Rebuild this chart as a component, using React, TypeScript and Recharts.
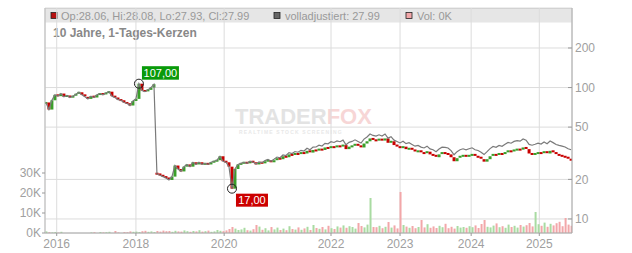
import React from 'react';
import { ComposedChart, Bar, Line, XAxis, YAxis, CartesianGrid, ReferenceDot } from 'recharts';

// one candle per ~3 trading weeks, oldest first (2015 .. mid 2025)
const closes = [
  77, 68, 80, 88, 86, 90, 85, 87, 84, 86,
  89, 92, 88, 85, 82, 86, 84, 88, 90, 88,
  91, 93, 86, 84, 81, 80, 77, 76, 73, 79,
  82, 107, 95, 93, 96, 100, 106, 22, 21.5, 21,
  20.5, 19.8, 21, 25.5, 24, 23, 25, 26, 25, 27,
  26, 27, 26, 26.5, 26, 27, 27.5, 28, 30, 27.5,
  27, 25, 17, 24, 26, 26.5, 27, 26.5, 27.5, 27,
  26, 27, 26.5, 27.5, 28, 27, 28, 29, 28.5, 30,
  29.5, 31, 30.5, 31.5, 31, 32, 31.5, 33, 32, 33.5,
  33, 34, 33.5, 35, 34.5, 35.5, 35, 36, 35.5, 36.5,
  34, 35.5, 36, 37, 36, 35, 37.5, 39, 41, 40,
  39.5, 40.5, 39.5, 41, 38, 39, 36.5, 35.5, 34.5, 35.5,
  34, 34.5, 33.5, 32.5, 33, 32, 31.5, 32.5, 31, 30.5,
  29.5, 31, 32, 31.5, 31, 29.5, 27.5, 29, 30, 30.5,
  30, 30.5, 31, 30, 29.5, 28.5, 27.3, 28.5, 30, 31,
  30.5, 31.5, 31, 32, 33, 32.5, 33.5, 34, 33.7, 35,
  34, 31.5, 31, 31.5, 32, 31.5, 32.5, 31.5, 33, 32,
  31, 30.5, 30, 29.5, 28.5, 27.99,
];

// "volladjustiert" line
const adjusted = [
  77, 68, 80, 88, 86, 90, 85, 87, 84, 86,
  89, 92, 88, 85, 82, 86, 84, 88, 90, 88,
  91, 93, 86, 84, 81, 80, 77, 76, 73, 79,
  82, 107, 95, 93, 96, 100, 106, 22, 21.5, 21,
  20.5, 19.8, 21, 25.5, 24, 23, 25, 26, 25, 27,
  26, 27, 26, 26.5, 26, 27, 27.5, 28, 30, 27.5,
  27, 25, 17, 24, 26, 26.5, 27, 26.5, 27.5, 27.1,
  26.2, 27.2, 26.8, 27.8, 28.4, 27.5, 28.5, 29.6, 29.2, 30.7,
  30.4, 32, 31.5, 32.6, 32.2, 33.3, 32.9, 34.5, 33.6, 35.2,
  35.3, 36.4, 35.9, 37.6, 37.3, 38.7, 38.2, 39.2, 38.7, 39.8,
  36.7, 38.3, 38.9, 40, 38.9, 37.8, 40.5, 42.1, 44.3, 43.2,
  42.7, 43.7, 42.7, 44.3, 41.2, 42.3, 39.8, 38.9, 37.9, 39,
  37.4, 38, 36.9, 35.8, 36.3, 35.2, 34.7, 35.8, 34.1, 33.6,
  32.5, 34.1, 35.2, 35, 34.7, 33.1, 30.8, 32.5, 33.6, 34.2,
  33.6, 34.2, 34.8, 33.6, 33.2, 32.2, 30.9, 32.5, 34.3, 35.6,
  35.1, 36.3, 35.7, 37, 38.2, 37.7, 38.9, 39.4, 39.1, 40.6,
  39.8, 36.9, 36.4, 37, 37.7, 37.2, 38.5, 37.4, 39.2, 38.1,
  36.9, 36.3, 35.8, 35.3, 34.2, 33.6,
];

// volume in thousand shares
const volumesK = [
  0.8, 0.4, 0.3, 0.5, 0.2, 0.6, 0, 0, 0, 0,
  0, 0, 0, 0, 0, 0.3, 0.4, 0, 0.5, 0.3,
  0.4, 0.6, 0, 1.0, 0.3, 0, 0.5, 0.4, 0.8, 0.6,
  0.7, 0.5, 0.9, 1.1, 0.6, 0.8, 0.5, 1.0, 0.7, 1.2,
  0.9, 1.0, 0.6, 1.1, 0.8, 0.7, 1.3, 0.9, 0.6, 1.0,
  0.8, 1.4, 0.7, 0.9, 1.2, 0.6, 0.8, 1.5, 1.1, 0.9,
  1.3, 2.0, 3.0, 2.2, 1.5, 1.8, 2.6, 1.4, 1.2, 1.9,
  4.0, 3.2, 1.6, 2.4, 1.3, 3.0, 1.8, 2.7, 1.5, 2.2,
  1.4, 3.4, 2.0, 1.7, 2.8, 1.6, 2.3, 3.1, 1.5, 4.0,
  2.5, 2.1, 3.0, 1.8, 3.6, 2.4, 2.0, 3.3, 2.7, 3.8,
  2.6, 3.4, 3.0, 2.2, 5.0, 3.5, 2.8, 4.2, 17.5, 3.0,
  2.9, 3.6, 2.4, 3.1, 5.5, 2.7, 3.8, 2.3, 20.5, 4.0,
  3.2, 2.6, 3.5, 2.4, 3.0, 6.5, 2.8, 4.4, 2.6, 3.3,
  2.5, 3.6, 2.9, 4.6, 2.4, 3.1, 2.2, 3.5, 2.7, 3.0,
  2.6, 3.4, 2.9, 3.8, 2.5, 4.5, 6.5, 3.1, 2.8, 3.7,
  4.8, 2.9, 3.4, 2.6, 4.2, 3.0, 3.6, 2.7, 4.0, 3.2,
  3.9, 5.0, 3.3, 10.5, 4.4, 3.6, 5.2, 3.1, 4.6, 3.8,
  4.9, 5.6, 3.4, 7.5, 4.2, 3.6,
];

// spin-off day: opened far below the previous close
const gapOpens: Record<number, number> = { 37: 22.3 };

const yearTickIdx = [3.6, 30, 59.4, 95, 118, 141.7, 164.4];
const yearLabels = ['2016', '2018', '2020', '2022', '2023', '2024', '2025'];
const priceTicks = [10, 20, 50, 100, 200];
const volTicks = [0, 10, 20, 30];

const UP = '#3a9f2a';
const DOWN = '#c80000';
const VOL_UP = '#a9dba2';
const VOL_DOWN = '#f2a7a9';
const ADJ = '#7a7a7a';
const AXIS_TEXT = '#a0a0a0';
const FONT = '"Liberation Sans", Arial, sans-serif';

const rows = closes.map((c, i) => {
  const open = gapOpens[i] ?? (i === 0 ? c : closes[i - 1]);
  return {
    i,
    open,
    close: c,
    body: [Math.min(open, c), Math.max(open, c)],
    up: c >= open,
    adj: adjusted[i],
    vol: volumesK[i],
  };
});

const hiIdx = closes.indexOf(Math.max(...closes));
const loIdx = closes.indexOf(Math.min(...closes));
const fmtDe = (v: number) => v.toFixed(2).replace('.', ',');

const Candle = (p: any) => {
  const { x, y, width, height, payload } = p;
  if (x == null || y == null) return null;
  const top = height < 0 ? y + height : y;
  const h = Math.max(Math.abs(height || 0), 2);
  return <rect x={x} y={top - (h > Math.abs(height || 0) ? 0.5 : 0)} width={width} height={h} fill={payload.up ? UP : DOWN} />;
};

const VolBar = (p: any) => {
  const { x, y, width, height, payload } = p;
  if (!height) return null;
  return <rect x={x} y={y} width={width} height={height} fill={payload.up ? VOL_UP : VOL_DOWN} />;
};

const PriceTick = ({ x, y, payload }: any) => (
  <g>
    <line x1={x - 4} x2={x} y1={y} y2={y} stroke="#999" />
    <text x={x + 3} y={y} dy="0.355em" fill={AXIS_TEXT} fontSize={12} fontFamily={FONT}>
      {payload.value}
    </text>
  </g>
);

const HighTag = ({ cx, cy }: any) => (
  <g>
    <circle cx={cx} cy={cy} r={4.5} fill="none" stroke="#222" strokeWidth={1} />
    <rect x={cx + 3} y={cy - 17.5} width={37} height={13.5} fill="#0a9a0a" />
    <text x={cx + 21.5} y={cy - 6.8} textAnchor="middle" fill="#fff" fontSize={11} fontFamily={FONT}>
      {fmtDe(closes[hiIdx])}
    </text>
  </g>
);

const LowTag = ({ cx, cy }: any) => (
  <g>
    <circle cx={cx} cy={cy} r={4.5} fill="none" stroke="#222" strokeWidth={1} />
    <rect x={cx + 4} y={cy + 5} width={32} height={13} fill="#cc0000" />
    <text x={cx + 20} y={cy + 15.5} textAnchor="middle" fill="#fff" fontSize={11} fontFamily={FONT}>
      {fmtDe(closes[loIdx])}
    </text>
  </g>
);

function Backdrop() {
  return (
    <svg width={632} height={253} style={{ position: 'absolute', left: 0, top: 0 }} fontFamily={FONT}>
      <rect x={45} y={8} width={527} height={14.5} fill="#e6e6e6" />
      <line x1={45} x2={572} y1={8.5} y2={8.5} stroke="#c8c8c8" />
      <rect x={51} y={12.5} width={6} height={6} fill="#b51010" stroke="#222" strokeWidth={0.8} />
      <text x={61} y={20} fontSize={11} fill="#999">Op:28.06, Hi:28.08, Lo:27.93, Cl:27.99</text>
      <rect x={274} y={12.5} width={6} height={6} fill="#666" stroke="#222" strokeWidth={0.8} />
      <text x={285} y={20} fontSize={11} fill="#999">volladjustiert: 27.99</text>
      <rect x={406} y={12.5} width={6} height={6} fill="#f2a7a9" stroke="#222" strokeWidth={0.8} />
      <text x={417} y={20} fontSize={11} fill="#999">Vol: 0K</text>
      <text x={53} y={37} fontSize={12} fontWeight="bold" fill="#888">10 Jahre, 1-Tages-Kerzen</text>
      <text x={235} y={124} fontSize={22} fontWeight="bold">
        <tspan fill="#e3e3e3">TRADER</tspan>
        <tspan fill="#f7d6d6">FOX</tspan>
      </text>
      <text x={239} y={134} fontSize={5} fontWeight="bold" fill="#e8e8e8" letterSpacing={1.2}>
        REALTIME STOCK SCREENING
      </text>
    </svg>
  );
}

export default function App() {
  return (
    <div style={{ position: 'relative', width: 632, height: 253, fontFamily: FONT }}>
      <style>{'body{margin:0}'}</style>
      <Backdrop />
      <div style={{ position: 'absolute', left: 0, top: 0 }}>
        <ComposedChart width={632} height={253} data={rows} margin={{ top: 8, right: 20, bottom: 0, left: 0 }}>
          <CartesianGrid stroke="#dcdcdc" />
          <XAxis
            type="number"
            dataKey="i"
            domain={[-0.3, 175.3]}
            allowDataOverflow
            ticks={yearTickIdx}
            interval={0}
            tickFormatter={(v: number) => yearLabels[yearTickIdx.indexOf(v)]}
            height={20}
            tickSize={3}
            tickMargin={3}
            axisLine={{ stroke: '#aaa' }}
            tickLine={{ stroke: '#999' }}
            tick={{ fill: AXIS_TEXT, fontSize: 12, fontFamily: FONT }}
          />
          <XAxis xAxisId="vx" type="number" dataKey="i" domain={[-0.3, 175.3]} allowDataOverflow hide />
          <YAxis
            yAxisId="vol"
            orientation="left"
            type="number"
            domain={[0, 112.5]}
            allowDataOverflow
            ticks={volTicks}
            interval={0}
            tickFormatter={(v: number) => `${v}K`}
            width={45}
            tickSize={3}
            tickMargin={1}
            axisLine={{ stroke: '#bbb' }}
            tickLine={{ stroke: '#999' }}
            tick={{ fill: AXIS_TEXT, fontSize: 12, fontFamily: FONT }}
          />
          <YAxis
            orientation="right"
            type="number"
            scale="log"
            domain={[7.82, 403]}
            allowDataOverflow
            ticks={priceTicks}
            interval={0}
            width={40}
            tickSize={0}
            tickMargin={0}
            tickLine={false}
            axisLine={{ stroke: '#aaa' }}
            tick={<PriceTick />}
          />
          <Bar xAxisId="vx" yAxisId="vol" dataKey="vol" barSize={2} shape={<VolBar />} isAnimationActive={false} />
          <Line
            dataKey="adj"
            type="linear"
            stroke={ADJ}
            strokeWidth={1.2}
            dot={false}
            activeDot={false}
            isAnimationActive={false}
          />
          <Bar dataKey="body" barSize={3} shape={<Candle />} isAnimationActive={false} />
          <ReferenceDot x={hiIdx} y={closes[hiIdx]} r={4.5} ifOverflow="visible" shape={<HighTag />} />
          <ReferenceDot x={loIdx} y={closes[loIdx]} r={4.5} ifOverflow="visible" shape={<LowTag />} />
        </ComposedChart>
      </div>
    </div>
  );
}
